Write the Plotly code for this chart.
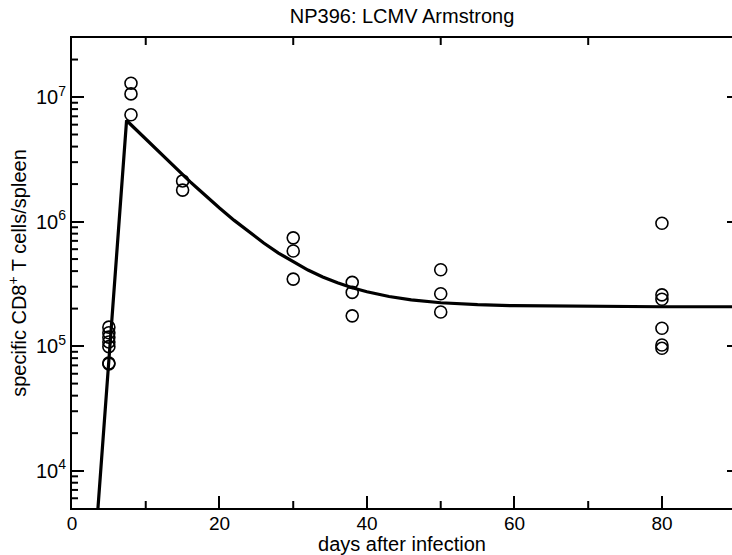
import math
import plotly.graph_objects as go

# Observed data (day after infection, specific CD8+ T cells / spleen)
obs_days = [5, 5, 5, 5, 5, 5, 5,
            8, 8, 8,
            15, 15,
            30, 30, 30,
            38, 38, 38,
            50, 50, 50,
            80, 80, 80, 80, 80, 80]
obs_cells = [1.42e5, 1.28e5, 1.18e5, 1.08e5, 0.99e5, 0.73e5, 0.72e5,
             1.29e7, 1.06e7, 7.2e6,
             2.12e6, 1.79e6,
             7.4e5, 5.8e5, 3.45e5,
             3.25e5, 2.7e5, 1.75e5,
             4.1e5, 2.63e5, 1.88e5,
             9.7e5, 2.58e5, 2.38e5, 1.39e5, 1.02e5, 0.96e5]

# Fitted curve
fit_days = [3.4, 7.4, 8, 9, 10, 11, 12, 13, 14, 15, 16, 17, 18, 19, 20, 22, 24, 26, 28,
            30, 32, 34, 36, 38, 40, 43, 46, 50, 55, 60, 70, 80, 89.5]
fit_cells = [4.0e3, 6.5e6, 5.99e6, 5.24e6, 4.58e6, 4.01e6, 3.51e6, 3.08e6, 2.70e6,
             2.36e6, 2.09e6, 1.85e6, 1.63e6, 1.45e6, 1.285e6, 1.022e6, 8.23e5, 6.73e5,
             5.59e5, 4.8e5, 4.08e5, 3.59e5, 3.22e5, 2.94e5, 2.73e5, 2.50e5, 2.35e5,
             2.23e5, 2.15e5, 2.11e5, 2.08e5, 2.07e5, 2.07e5]

x_major = [0, 20, 40, 60, 80]
x_minor = [10, 30, 50, 70]
y_major = [1e4, 1e5, 1e6, 1e7]
y_major_text = ["10<sup>4</sup>", "10<sup>5</sup>", "10<sup>6</sup>", "10<sup>7</sup>"]
y_minor = [m * 10 ** e for e in range(3, 8) for m in range(2, 10)]

X_RANGE = [0, 89.5]
Y_RANGE = [3.70, 7.474]

FONT = "Liberation Sans, Arial, Helvetica, sans-serif"

fig = go.Figure()
fig.add_trace(go.Scatter(
    x=obs_days, y=obs_cells, mode="markers",
    marker=dict(symbol="circle-open", size=12, color="black", line=dict(width=1.6, color="black")),
    showlegend=False, cliponaxis=False, hoverinfo="skip"))
fig.add_trace(go.Scatter(
    x=fit_days, y=fit_cells, mode="lines", yaxis="y2",
    line=dict(color="black", width=3.2), showlegend=False))

# minor ticks (bottom, top mirror, left) drawn as pixel-length tick shapes
tick_style = dict(type="line", line=dict(color="black", width=2), layer="above")
for d in x_minor:
    fig.add_shape(xref="x", x0=d, x1=d, yref="paper", ysizemode="pixel",
                  yanchor=0, y0=0, y1=7, **tick_style)
    fig.add_shape(xref="x", x0=d, x1=d, yref="paper", ysizemode="pixel",
                  yanchor=1, y0=0, y1=-7, **tick_style)
for v in y_minor:
    if Y_RANGE[0] < math.log10(v) < Y_RANGE[1]:
        fig.add_shape(yref="y", y0=v, y1=v, xref="paper", xsizemode="pixel",
                      xanchor=0, x0=0, x1=6, **tick_style)

fig.update_layout(
    width=732, height=555,
    margin=dict(l=72, r=0, t=38, b=47),
    paper_bgcolor="white", plot_bgcolor="white",
    font=dict(family=FONT, color="black"),
    title=dict(text="NP396: LCMV Armstrong", x=0.5, xref="paper", xanchor="center",
               y=1 - 16 / 555, yref="container", yanchor="middle",
               font=dict(family=FONT, size=20, color="black")),
    xaxis=dict(range=X_RANGE, tickmode="array", tickvals=x_major,
               ticks="inside", ticklen=12, tickwidth=2, tickcolor="black",
               showline=True, linewidth=2, linecolor="black", mirror=True,
               showgrid=False, zeroline=False, ticklabelstandoff=-3,
               tickfont=dict(family=FONT, size=19, color="black"),
               title=dict(text="days after infection", font=dict(family=FONT, size=20),
                          standoff=0)),
    yaxis=dict(type="log", range=Y_RANGE, tickmode="array", tickvals=y_major,
               ticktext=y_major_text, ticks="inside", ticklen=12, tickwidth=2,
               tickcolor="black", showline=True, linewidth=2, linecolor="black",
               mirror=False, showgrid=False, zeroline=False,
               tickfont=dict(family=FONT, size=20, color="black"),
               title=dict(text="specific CD8<sup>+</sup> T cells/spleen",
                          font=dict(family=FONT, size=20), standoff=4)),
    yaxis2=dict(type="log", range=Y_RANGE, overlaying="y", anchor="x", side="right",
                tickmode="array", tickvals=y_major, ticks="inside", ticklen=5,
                tickwidth=2, tickcolor="black", showticklabels=False,
                showline=False, showgrid=False, zeroline=False),
)

fig.write_html("out.html")
